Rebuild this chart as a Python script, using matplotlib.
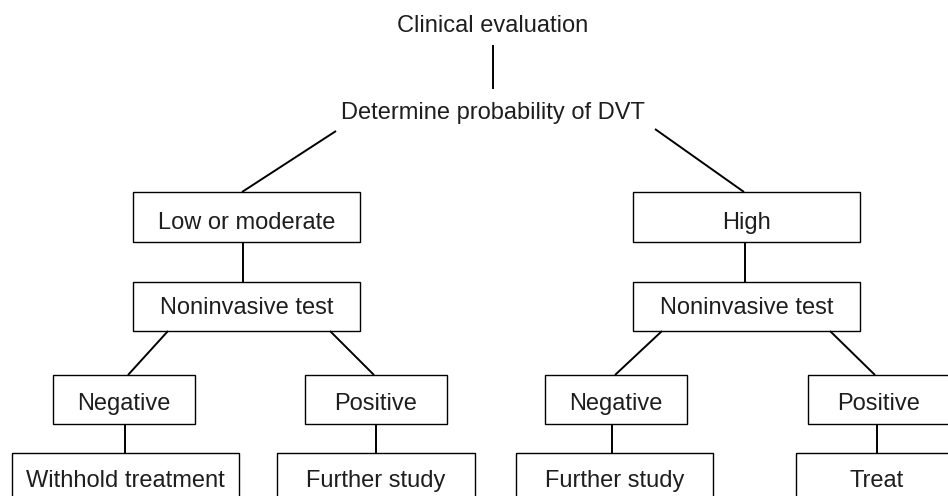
import matplotlib.pyplot as plt
from matplotlib.patches import Rectangle

plt.rcParams['font.family'] = ['Liberation Sans', 'DejaVu Sans']

# text of the chart
top_labels = ['Clinical evaluation', 'Determine probability of DVT']
prob_labels = ['Low or moderate', 'High']
test_label = 'Noninvasive test'
result_labels = ['Negative', 'Positive', 'Negative', 'Positive']
action_labels = ['Withhold treatment', 'Further study', 'Further study', 'Treat']

# layout (pixels, origin top-left); (x, y, w, h, text baseline offset)
top_pos = [(493, 32), (493, 119)]
prob_boxes = [(133, 192, 227, 50, 37), (633, 192, 227, 50, 37)]
test_boxes = [(133, 282, 227, 49, 32), (633, 282, 227, 49, 32)]
result_boxes = [(53, 375, 142, 49, 35), (305, 375, 142, 49, 35),
                (545, 375, 142, 49, 35), (808, 375, 142, 49, 35)]
action_boxes = [(12, 453, 227, 50, 34), (277, 453, 198, 50, 34),
                (516, 453, 197, 50, 34), (796, 453, 162, 50, 34)]

fig = plt.figure(figsize=(9.48, 4.96), dpi=100)
ax = fig.add_axes([0, 0, 1, 1])
ax.set_xlim(0, 948)
ax.set_ylim(496, 0)
ax.axis('off')

fs = 17
tc = '#1e1e1e'
lw_box = 1.0
lw_line = 1.4


def box(b, label):
    x, y, w, h, off = b
    ax.add_patch(Rectangle((x, y), w, h, fill=False, edgecolor='black', lw=lw_box))
    ax.text(x + w / 2, y + off, label, ha='center', va='baseline', fontsize=fs, color=tc)


def line(p, q):
    ax.plot([p[0], q[0]], [p[1], q[1]], color='black', lw=lw_line, solid_capstyle='butt')


for (x, y), t in zip(top_pos, top_labels):
    ax.text(x, y, t, ha='center', va='baseline', fontsize=fs, color=tc)
line((493, 45), (493, 89))
line((336, 131), (242, 192))
line((655, 129), (744, 192))

for b, t in zip(prob_boxes, prob_labels):
    box(b, t)
for b in test_boxes:
    box(b, test_label)
for b, t in zip(result_boxes, result_labels):
    box(b, t)
for b, t in zip(action_boxes, action_labels):
    box(b, t)

# vertical links box -> box
line((243, 242), (243, 282))
line((745, 242), (745, 282))
for x in [125, 376, 612, 877]:
    line((x, 424), (x, 453))

# diagonal links test -> result
line((168, 331), (128, 375))
line((330, 331), (374, 375))
line((662, 331), (615, 375))
line((830, 331), (875, 375))

fig.savefig('out.png', dpi=100)
